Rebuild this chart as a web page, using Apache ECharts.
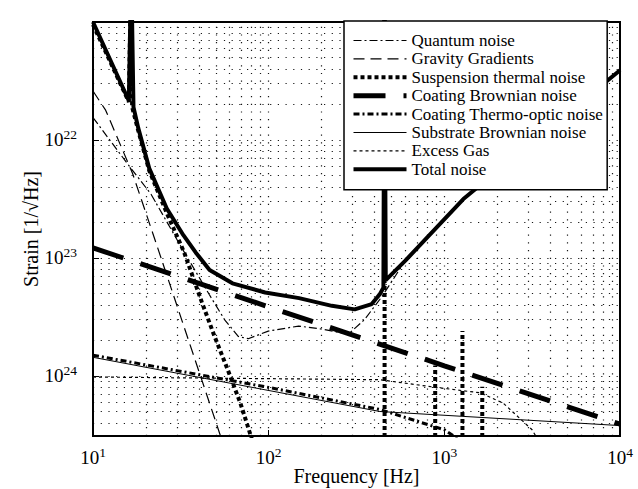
<!DOCTYPE html>
<html><head><meta charset="utf-8">
<script src="https://cdn.jsdelivr.net/npm/echarts@6/dist/echarts.min.js"></script>
<style>html,body{margin:0;padding:0;background:#fff}#c{width:638px;height:489px}#err{position:absolute;left:0;top:0;font:10px monospace;color:red}</style>
</head><body><div id="c"></div><div id="err"></div>
<script>
window.onerror = function (m, s, l, c) { document.getElementById('err').textContent += m + ' @' + l + ':' + c + ' | '; };
// ---- axis range, ticks and grid values ----
const xRange = [10, 10000];
const yRange = [3.1e-25, 1e-21];
const yTickExponents = [-22, -23, -24];
const xGridValues = [20,30,40,50,60,70,80,90,100,200,300,400,500,600,700,800,900,1000,2000,3000,4000,5000,6000,7000,8000,9000];
const yGridValues = [4e-25,5e-25,6e-25,7e-25,8e-25,9e-25,1e-24,2e-24,3e-24,4e-24,5e-24,6e-24,7e-24,8e-24,9e-24,1e-23,2e-23,3e-23,4e-23,5e-23,6e-23,7e-23,8e-23,9e-23,1e-22,2e-22,3e-22,4e-22,5e-22,6e-22,7e-22,8e-22,9e-22];

// ---- series data: [frequency Hz, strain] ----
const quantumNoise = [[10,1.55e-22],[15.7,6.3e-23],[21.4,3.47e-23],[26.3,2.03e-23],[31.3,1.29e-23],[45.9,4.9e-24],[56.3,2.98e-24],[67.3,2.16e-24],[76.5,2.07e-24],[99.5,2.4e-24],[148,2.65e-24],[200,2.5e-24],[284,2.26e-24],[351,3.0e-24],[441,4.7e-24],[600,9.5e-24],[1283,3.16e-23],[10000,3.9e-22]];
const gravityGradients = [[10,2.6e-22],[11.8,1.79e-22],[16.8,5.2e-23],[22.7,1.38e-23],[54,2.9e-25],[60,1.8e-25]];
const suspensionThermal = [[10,9.5e-22],[16,2.1e-22],[16.5,3e-21],[16.6,3e-21],[16.7,1.9e-22],[18.1,1.2e-22],[20.9,5.5e-23],[26.3,2.4e-23],[33,1.12e-23],[41.7,4.2e-24],[49,2.2e-24],[58.6,1.12e-24],[69,5.9e-25],[75.4,3.9e-25],[90,1.7e-25],[120,5e-26]];
// violin-mode peaks of the suspension thermal noise: [frequency, peak strain]
const violinPeaks = [[457,3e-21],[887,1.23e-24],[1268,2.4e-24],[1644,8.1e-25]];
const violinBase = 1e-26;
const coatingBrownian = [[10,1.22e-23],[100,3.85e-24],[1000,1.22e-24],[10000,3.9e-25]];
const coatingThermoOptic = [[10,1.5e-24],[100,8e-25],[430,5.2e-25],[1000,3.5e-25],[1400,2.5e-25]];
const substrateBrownian = [[10,1.44e-24],[430,5e-25],[10000,3.8e-25]];
const excessGas = [[10,9.8e-25],[430,9.3e-25],[900,8e-25],[1600,7.2e-25],[2160,5.9e-25],[3160,3.5e-25],[3600,2.5e-25]];
const totalNoise = [[10,1.0e-21],[16,2.15e-22],[16.5,3e-21],[16.6,3e-21],[17,1.9e-22],[18.1,1.26e-22],[20.9,5.75e-23],[26.3,2.63e-23],[32.7,1.56e-23],[38.5,1.11e-23],[46.1,7.9e-24],[62.2,6.1e-24],[95.5,5.1e-24],[149,4.57e-24],[229,3.93e-24],[309,3.67e-24],[386,4.07e-24],[430,4.95e-24],[450,5.6e-24],[456,3e-21],[458,3e-21],[464,6.5e-24],[600,9.5e-24],[1283,3.16e-23],[10000,3.9e-22]];

const FONT = 'Liberation Serif';
const chart = echarts.init(document.getElementById('c'), null, {renderer: 'svg'});

const richLab = {
  b: {fontFamily: FONT, fontSize: 19, color: '#000'},
  s: {fontFamily: FONT, fontSize: 13.5, color: '#000', padding: [0, 0, 10, 0]}
};

const mk = (name, data, width, type, z) => ({
  name, type: 'line', data, symbol: 'none', showSymbol: false, z: z || 3,
  lineStyle: {color: '#000', width, type: type || 'solid'},
  itemStyle: {color: '#000'}, animation: false
});

const gridLines = [];
xGridValues.forEach(v => gridLines.push([{coord: [v, yRange[0]]}, {coord: [v, yRange[1]]}]));
yGridValues.forEach(v => gridLines.push([{coord: [xRange[0], v]}, {coord: [xRange[1], v]}]));

const series = [
  {type: 'line', name: 'grid', data: [[10, 1e-21]], symbol: 'none', z: 1, silent: true, lineStyle: {opacity: 0},
   markLine: {silent: true, symbol: ['none', 'none'], label: {show: false}, animation: false,
     lineStyle: {color: '#000', width: 1.2, type: [1.2, 6.5], opacity: 0.9}, data: gridLines}},
  mk('Quantum noise', quantumNoise, 1.2, [8, 3, 2, 3]),
  mk('Gravity Gradients', gravityGradients, 1.2, [11, 6]),
  mk('Suspension thermal noise', suspensionThermal, 4, [4, 3]),
  mk('Coating Brownian noise', coatingBrownian, 5, [32, 18]),
  mk('Coating Thermo-optic noise', coatingThermoOptic, 3, [6, 3, 2, 3]),
  mk('Substrate Brownian noise', substrateBrownian, 1),
  mk('Excess Gas', excessGas, 1.2, [3, 3]),
  mk('Total noise', totalNoise, 4, 'solid', 4)
];
violinPeaks.forEach(p => series.push(mk('Suspension thermal noise', [[p[0], violinBase], p], 4, [4, 3])));

const option = {
  animation: false,
  backgroundColor: '#fff',
  grid: {left: 93, right: 18, top: 22, bottom: 53, show: true, borderColor: '#000', borderWidth: 2, containLabel: false, outerBoundsMode: 'none'},
  xAxis: {
    type: 'log', logBase: 10, min: xRange[0], max: xRange[1],
    name: 'Frequency [Hz]', nameLocation: 'middle', nameGap: 30, nameMoveOverlap: false,
    nameTextStyle: {fontFamily: FONT, fontSize: 20, color: '#000'},
    axisLine: {show: true, lineStyle: {color: '#000', width: 2}},
    axisTick: {show: true, inside: true, length: 6, lineStyle: {color: '#000'}},
    splitLine: {show: false},
    axisLabel: {margin: 9, rich: richLab, formatter: v => {
      const r = Math.round(Math.log10(v));
      return Math.abs(Math.log10(v) - r) > 1e-6 ? '' : '{b|10}{s|' + r + '}';
    }}
  },
  yAxis: {
    type: 'log', logBase: 10, min: yRange[0], max: yRange[1],
    name: 'Strain [1/\u221AHz]', nameLocation: 'middle', nameGap: 52, nameMoveOverlap: false,
    nameTextStyle: {fontFamily: FONT, fontSize: 20, color: '#000'},
    axisLine: {show: true, lineStyle: {color: '#000', width: 2}},
    axisTick: {show: true, inside: true, length: 6, lineStyle: {color: '#000'}},
    splitLine: {show: false},
    axisLabel: {margin: 16, rich: richLab, formatter: v => {
      const e = Math.log10(v), r = Math.round(e);
      if (Math.abs(e - r) > 1e-6 || yTickExponents.indexOf(r) < 0) return '';
      return '{b|10}{s|' + (-r) + '}';
    }}
  },
  legend: {
    left: 344, top: 21, orient: 'vertical', selectedMode: false, z: 100, zlevel: 0,
    itemWidth: 53, itemHeight: 14, itemGap: 1.4, padding: [11, 4, 12, 7],
    backgroundColor: '#fff', borderColor: '#000', borderWidth: 1.5,
    itemStyle: {opacity: 0},
    lineStyle: {width: 'inherit', type: 'inherit'},
    textStyle: {fontFamily: FONT, fontSize: 17, color: '#000'},
    data: ['Quantum noise','Gravity Gradients','Suspension thermal noise','Coating Brownian noise','Coating Thermo-optic noise','Substrate Brownian noise','Excess Gas','Total noise']
  },
  series
};
try { chart.setOption(option); } catch (e) { document.getElementById('err').textContent += 'EXC ' + e.message + ' ' + (e.stack || '').slice(0, 300); }
</script></body></html>
